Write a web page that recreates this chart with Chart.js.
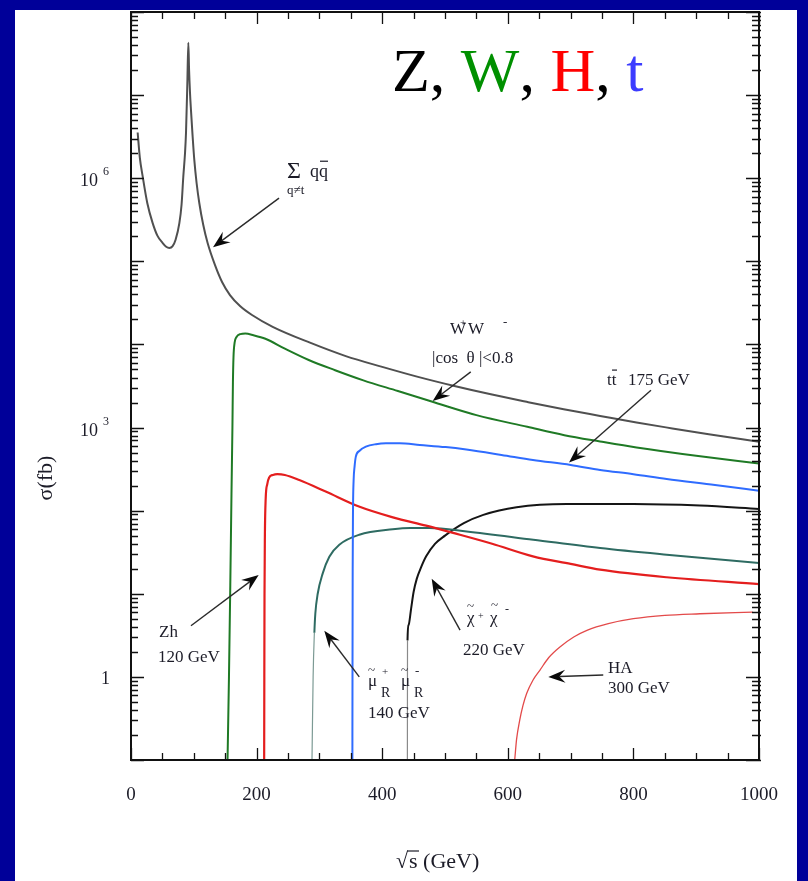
<!DOCTYPE html>
<html>
<head>
<meta charset="utf-8">
<script src="https://cdn.jsdelivr.net/npm/chart.js@4.4.1/dist/chart.umd.min.js"></script>
<style>
  html, body { margin: 0; padding: 0; background: #000099; }
  canvas { display: block; }
</style>
</head>
<body>
<canvas id="c" width="808" height="881"></canvas>
<script>
// e+e- cross sections (fb) versus sqrt(s) (GeV)

// Sum of q qbar (q != t), with the Z pole
const qqX = [10.6, 14, 18.6, 26, 34.5, 42, 50.5, 56, 61, 66, 71, 77, 80.5, 83.3, 86, 87.6, 89.7, 91.3, 92.5, 94, 95.5, 98, 100.8, 104.5, 108.8, 115, 122, 133.8, 145, 157.6, 173.6, 192.7, 225.6, 285, 342, 400, 457, 515, 573, 630, 689, 747, 805, 862, 920, 1000];
const qqY = [3.55e6, 1.78e6, 1.05e6, 5.0e5, 2.88e5, 2.04e5, 1.66e5, 1.5e5, 1.45e5, 1.51e5, 1.82e5, 2.88e5, 4.8e5, 1.05e6, 2.0e6, 3.55e6, 1.38e7, 4.27e7, 2.0e7, 1.05e7, 6.6e6, 3.3e6, 1.66e6, 8.7e5, 5.0e5, 2.75e5, 1.66e5, 9.0e4, 5.64e4, 3.93e4, 2.9e4, 2.26e4, 1.63e4, 1.05e4, 7.24e3, 5.37e3, 4.07e3, 3.16e3, 2.51e3, 2.04e3, 1.66e3, 1.38e3, 1.15e3, 977, 832, 676];

// W+W-, |cos theta| < 0.8
const wwX = [153.5, 156, 158.1, 160, 161.5, 162.3, 163.2, 165, 168, 174, 182, 195, 214, 245, 283, 325, 370, 425, 480, 550, 631, 690, 747, 805, 900, 1000];
const wwY = [0.08, 1, 12.6, 158, 1000, 3500, 7000, 1.05e4, 1.23e4, 1.33e4, 1.35e4, 1.29e4, 1.17e4, 8.9e3, 6.5e3, 4.9e3, 3.7e3, 2.75e3, 2.04e3, 1.41e3, 1.02e3, 8.1e2, 6.8e2, 5.75e2, 4.57e2, 3.7e2];

// t tbar, m_t = 175 GeV
const ttX = [352.5, 352.7, 353, 353.5, 354.5, 356, 358, 364, 374, 390, 406, 428, 460, 501, 534, 590, 640, 700, 747, 800, 853, 930, 1000];
const ttY = [0.08, 1, 20, 100, 234, 339, 447, 525, 589, 631, 646, 646, 617, 582, 543, 468, 407, 355, 309, 275, 240, 204, 174];

// Zh, m_h = 120 GeV
const zhX = [212, 212.3, 212.6, 213.2, 214.5, 217, 220, 226, 233, 245, 268, 310, 363, 417, 470, 513, 575, 640, 700, 747, 853, 1000];
const zhY = [0.08, 1, 10, 50, 141, 209, 251, 269, 275, 269, 234, 170, 112, 83, 66, 54, 40, 28.2, 22.9, 19.5, 15.8, 13.1];

// smuon_R pairs, 140 GeV
const smuX = [288, 288.2, 290, 292, 293.5, 297.3, 305.3, 315.8, 331.7, 363.5, 416.7, 445, 475, 534.5, 640.6, 747, 853, 1000];
const smuY = [0.08, 0.1, 1, 3.4, 5.75, 10, 17.6, 27.9, 38.9, 51.3, 59.6, 61.7, 61.7, 56.2, 44.7, 35.5, 29.5, 23.4];

// chargino pairs, 220 GeV
const chiX = [440, 440.1, 440.3, 442, 446, 450, 455, 462, 470, 484, 500, 530, 561, 614, 694, 800, 906, 1000];
const chiY = [0.08, 0.1, 2.75, 4.2, 6.6, 10.5, 15.1, 20.9, 28.2, 39.8, 50.1, 70.8, 89.1, 110, 120, 120, 115, 105];

// HA, 300 GeV
const haX = [611, 614, 619, 624, 630, 640, 651, 665, 683, 705, 726, 760, 800, 850, 906, 990];
const haY = [0.1, 0.178, 0.302, 0.447, 0.631, 0.912, 1.2, 1.7, 2.29, 3.02, 3.63, 4.37, 5.01, 5.5, 5.75, 6.03];

// axis tick labels
const xTickValues = [0, 200, 400, 600, 800, 1000];
const xTickLabels = ['0', '200', '400', '600', '800', '1000'];
const yTickValues = [1, 1e3, 1e6];
const yTickBases = ['1', '10', '10'];
const yTickExps = ['', '3', '6'];

const SERIF = '"Liberation Serif", "DejaVu Serif", serif';
const INK = '#1c1c28';

function points(xs, ys) {
  return xs.map((x, i) => ({ x: x, y: ys[i] }));
}

// first few segments of a curve drawn as a thin, lighter stroke
function thinStart(n, thinColor, thickColor, thinW, thickW) {
  return {
    borderWidth: ctx => (ctx.p1DataIndex <= n ? thinW : thickW),
    borderColor: ctx => (ctx.p1DataIndex <= n ? thinColor : thickColor)
  };
}

const datasets = [
  { data: points(qqX, qqY), borderColor: '#505050', borderWidth: 2 },
  { data: points(wwX, wwY), borderColor: '#1f7a25', borderWidth: 2 },
  { data: points(ttX, ttY), borderColor: '#2f6cff', borderWidth: 2 },
  { data: points(zhX, zhY), borderColor: '#e41e1e', borderWidth: 2.2 },
  { data: points(smuX, smuY), borderColor: '#2e6b62', borderWidth: 2,
    segment: thinStart(3, '#7c9a94', '#2e6b62', 1.2, 2) },
  { data: points(chiX, chiY), borderColor: '#151515', borderWidth: 2,
    segment: thinStart(2, '#8a8a8a', '#151515', 1.2, 2) },
  { data: points(haX, haY), borderColor: '#e34a4a', borderWidth: 1.3 }
];

// annotation labels, anchored in data coordinates (x in GeV, y as log10 of fb)
const annotations = [
  { x: 248.4, ly: 6.0, parts: [
      { t: '\u03A3', dx: 0, dy: 0, size: 24 },
      { t: 'qq', dx: 23, dy: -1, size: 18 },
      { bar: [33, 41], dy: -17 },
      { t: 'q\u2260t', dx: 0, dy: 16, size: 13 } ],
    arrow: [235.7, 5.76, 130.6, 5.17] },
  { x: 508, ly: 4.125, parts: [
      { t: 'W', dx: 0, dy: 0, size: 17 },
      { t: '+', dx: 10, dy: -8, size: 11 },
      { t: 'W', dx: 18, dy: 0, size: 17 },
      { t: '-', dx: 53, dy: -8, size: 13 } ] },
  { x: 479.3, ly: 3.776, parts: [ { t: '|cos  \u03B8 |<0.8', dx: 0, dy: 0, size: 17 } ],
    arrow: [541, 3.67, 480.4, 3.32] },
  { x: 758, ly: 3.511, parts: [
      { t: 'tt', dx: 0, dy: 0, size: 17 },
      { bar: [5, 10], dy: -15 },
      { t: '175 GeV', dx: 21, dy: 0, size: 17 } ],
    arrow: [828, 3.45, 697.5, 2.58] },
  { x: 44.6, ly: 0.479, parts: [
      { t: 'Zh', dx: 0, dy: 0, size: 17 },
      { t: '120 GeV', dx: -1, dy: 25, size: 17 } ],
    arrow: [95.5, 0.615, 203.3, 1.225] },
  { x: 377.4, ly: -0.111, parts: [
      { t: '\u03BC', dx: 0, dy: 0, size: 17 },
      { t: '~', dx: 0, dy: -12, size: 13 },
      { t: '+', dx: 14, dy: -11, size: 11 },
      { t: 'R', dx: 13, dy: 11, size: 14 },
      { t: '\u03BC', dx: 33, dy: 0, size: 17 },
      { t: '~', dx: 33, dy: -12, size: 13 },
      { t: '-', dx: 47, dy: -11, size: 13 },
      { t: 'R', dx: 46, dy: 11, size: 14 },
      { t: '140 GeV', dx: 0, dy: 32, size: 17 } ],
    arrow: [363.5, 0.0, 307.8, 0.555] },
  { x: 535, ly: 0.647, parts: [
      { t: '\u03C7', dx: 0, dy: 0, size: 17 },
      { t: '~', dx: 0, dy: -13, size: 13 },
      { t: '+', dx: 11, dy: -4, size: 10 },
      { t: '\u03C7', dx: 23, dy: 0, size: 17 },
      { t: '~', dx: 24, dy: -14, size: 13 },
      { t: '-', dx: 38, dy: -10, size: 12 },
      { t: '220 GeV', dx: -4, dy: 32, size: 17 } ],
    arrow: [524, 0.563, 478.8, 1.18] },
  { x: 759.6, ly: 0.046, parts: [
      { t: 'HA', dx: 0, dy: 0, size: 17 },
      { t: '300 GeV', dx: 0, dy: 20, size: 17 } ],
    arrow: [752, 0.022, 664.5, 0.0] }
];

function drawArrow(ctx, x1, y1, x2, y2) {
  const a = Math.atan2(y2 - y1, x2 - x1);
  const len = 17, half = 6.5, notch = 11;
  const bx = x2 - len * Math.cos(a), by = y2 - len * Math.sin(a);
  const nx = x2 - notch * Math.cos(a), ny = y2 - notch * Math.sin(a);
  const px = -Math.sin(a), py = Math.cos(a);
  ctx.strokeStyle = '#2a2a2a';
  ctx.lineWidth = 1.4;
  ctx.beginPath();
  ctx.moveTo(x1, y1);
  ctx.lineTo(nx, ny);
  ctx.stroke();
  ctx.fillStyle = '#0a0a0a';
  ctx.beginPath();
  ctx.moveTo(x2, y2);
  ctx.lineTo(bx + px * half, by + py * half);
  ctx.lineTo(nx, ny);
  ctx.lineTo(bx - px * half, by - py * half);
  ctx.closePath();
  ctx.fill();
}

const paper = {
  id: 'paper',
  beforeDraw(chart) {
    const ctx = chart.ctx;
    ctx.save();
    ctx.fillStyle = '#000099';
    ctx.fillRect(0, 0, chart.width, chart.height);
    ctx.fillStyle = '#ffffff';
    ctx.fillRect(15, 10, chart.width - 15 - 11, chart.height - 10);
    ctx.restore();
  },
  afterDatasetsDraw(chart) {
    const ctx = chart.ctx;
    const xs = chart.scales.x, ys = chart.scales.y;
    const a = chart.chartArea;
    const P = (x, ly) => [xs.getPixelForValue(x), ys.getPixelForValue(Math.pow(10, ly))];
    ctx.save();

    // frame
    ctx.strokeStyle = '#111';
    ctx.lineWidth = 2;
    ctx.strokeRect(a.left, a.top, a.right - a.left, a.bottom - a.top);

    // inward ticks, x: every 50 GeV, longer every 200 GeV
    ctx.lineWidth = 1.3;
    ctx.beginPath();
    for (let v = xs.min; v <= xs.max; v += 50) {
      const px = Math.round(xs.getPixelForValue(v)) + 0.5;
      const L = (v % 200 === 0) ? 12 : 7;
      ctx.moveTo(px, a.bottom); ctx.lineTo(px, a.bottom - L);
      ctx.moveTo(px, a.top); ctx.lineTo(px, a.top + L);
    }
    // inward ticks, y: decades and 2..9 within each decade
    for (let e = -1; e <= 8; e++) {
      for (let m = 1; m <= 9; m++) {
        const v = m * Math.pow(10, e);
        if (v < ys.min * 0.999 || v > ys.max * 1.001) continue;
        const py = Math.round(ys.getPixelForValue(v)) + 0.5;
        const L = m === 1 ? 13 : 7;
        ctx.moveTo(a.left, py); ctx.lineTo(a.left + L, py);
        ctx.moveTo(a.right + 2, py); ctx.lineTo(a.right - L, py);
      }
    }
    ctx.stroke();

    // tick labels
    ctx.fillStyle = INK;
    ctx.textBaseline = 'alphabetic';
    ctx.font = '19px ' + SERIF;
    ctx.textAlign = 'center';
    xTickValues.forEach((v, i) => {
      ctx.fillText(xTickLabels[i], xs.getPixelForValue(v), a.bottom + 40);
    });
    yTickValues.forEach((v, i) => {
      const py = ys.getPixelForValue(v);
      ctx.textAlign = 'right';
      ctx.font = '18px ' + SERIF;
      if (yTickExps[i]) {
        ctx.fillText(yTickBases[i], 98, py + 8);
        ctx.textAlign = 'left';
        ctx.font = '12px ' + SERIF;
        ctx.fillText(yTickExps[i], 103, py - 3);
      } else {
        ctx.fillText(yTickBases[i], 110, py + 7);
      }
    });

    // axis titles
    ctx.font = '22px ' + SERIF;
    ctx.textAlign = 'left';
    const tx = 398, ty = 868;
    ctx.fillText('\u221A', tx - 2, ty);
    ctx.fillText('s (GeV)', tx + 11, ty);
    ctx.lineWidth = 1.2;
    ctx.strokeStyle = INK;
    ctx.beginPath();
    ctx.moveTo(tx + 9, ty - 17); ctx.lineTo(tx + 21, ty - 17);
    ctx.stroke();

    ctx.save();
    ctx.translate(52, 478);
    ctx.rotate(-Math.PI / 2);
    ctx.textAlign = 'center';
    ctx.font = '22px ' + SERIF;
    ctx.fillText('\u03C3(fb)', 0, 0);
    ctx.restore();

    // process labels and arrows
    annotations.forEach(an => {
      const [ax, ay] = P(an.x, an.ly);
      an.parts.forEach(p => {
        if (p.bar) {
          ctx.strokeStyle = INK;
          ctx.lineWidth = 1.2;
          ctx.beginPath();
          ctx.moveTo(ax + p.bar[0], ay + p.dy);
          ctx.lineTo(ax + p.bar[1], ay + p.dy);
          ctx.stroke();
        } else {
          ctx.fillStyle = INK;
          ctx.textAlign = 'left';
          ctx.font = p.size + 'px ' + SERIF;
          ctx.fillText(p.t, ax + p.dx, ay + p.dy);
        }
      });
      if (an.arrow) {
        const [x1, y1] = P(an.arrow[0], an.arrow[1]);
        const [x2, y2] = P(an.arrow[2], an.arrow[3]);
        drawArrow(ctx, x1, y1, x2, y2);
      }
    });

    // heading
    ctx.font = '62px ' + SERIF;
    ctx.textAlign = 'left';
    const heading = [['Z, ', '#000000'], ['W', '#009000'], [', ', '#000000'], ['H', '#ff0000'], [', ', '#000000'], ['t', '#3c3cff']];
    let hx = 392;
    heading.forEach(([s, c]) => {
      ctx.fillStyle = c;
      ctx.fillText(s, hx, 91);
      hx += ctx.measureText(s).width;
    });

    ctx.restore();
  }
};

new Chart(document.getElementById('c').getContext('2d'), {
  type: 'line',
  data: { datasets: datasets },
  options: {
    responsive: false,
    animation: false,
    layout: { padding: { left: 131, top: 12, right: 808 - 759, bottom: 881 - 760 } },
    plugins: { legend: { display: false }, tooltip: { enabled: false } },
    elements: {
      point: { radius: 0 },
      line: { cubicInterpolationMode: 'monotone', fill: false }
    },
    scales: {
      x: { type: 'linear', min: 0, max: 1000, display: false },
      y: { type: 'logarithmic', min: 0.1, max: 1e8, display: false }
    }
  },
  plugins: [paper]
});
</script>
</body>
</html>
